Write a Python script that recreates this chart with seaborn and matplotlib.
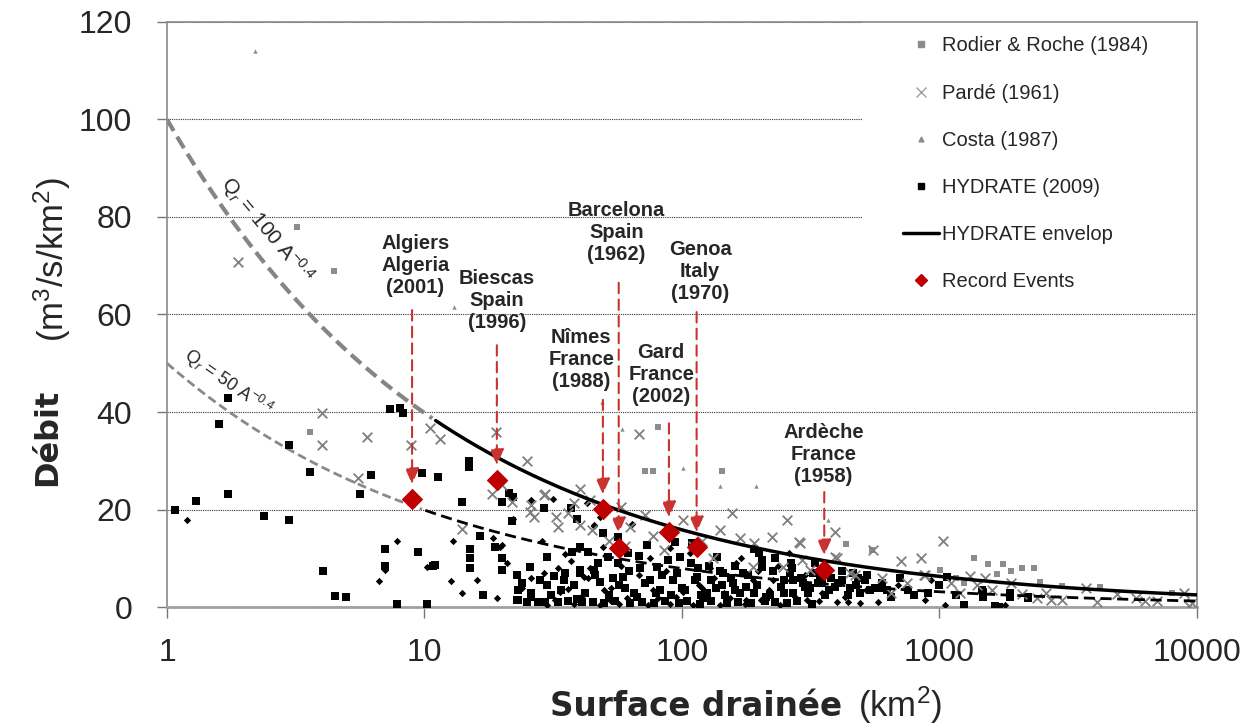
import matplotlib
matplotlib.use("Agg")
import matplotlib.pyplot as plt
from matplotlib.lines import Line2D
from matplotlib.patches import Rectangle
from matplotlib.ticker import NullLocator
import numpy as np
import pandas as pd
import seaborn as sns

# ---- data ----
rodier_area = [3.2, 4.45, 3.6, 80.9, 72, 77, 143, 433, 546, 1357, 1540, 1770, 1680,
               1900, 2100, 2320, 1005, 2450, 3000, 4200, 8000, 1160, 1250]
rodier_q = [78, 69, 36, 37, 28, 28, 28, 13, 11.7, 10, 8.8, 8.8, 6.8,
            7.4, 8, 8, 7.6, 5.1, 4.3, 4.1, 2.9, 6, 5]

costa_area = [2.2, 13, 58.5, 101, 140, 194, 368, 49]
costa_q = [114, 61.5, 36.5, 28.5, 24.8, 24.8, 17.8, 42]

parde_area = [1.89, 4.0, 4.0, 6.0, 5.5, 8.9, 10.5, 11.5, 19, 14, 18.3, 20, 21.8, 25, 29,
              25.6, 26.6, 33, 36, 40, 40, 44.8, 32.5, 29.4, 62.8, 68, 71.8, 101, 140, 156,
              168, 191, 224, 255, 284, 394, 553, 132, 189, 247, 292, 314, 400, 450, 394,
              288, 710, 850, 1030, 870, 470, 750, 880, 1110, 1320, 1500, 1600, 1900, 2100,
              2400, 2700, 3700, 4100, 4900, 5800, 6300, 7000, 8900, 9600, 9300, 2600, 3000,
              110, 120, 77, 60, 52, 85, 58, 44, 38, 26, 600, 650, 1200, 1400]
parde_q = [70.8, 39.8, 33.2, 34.9, 26.5, 33.2, 36.7, 34.4, 35.9, 16, 23.3, 25, 21.6, 30, 23,
           19.5, 18.5, 16.4, 19.3, 24.2, 16.8, 15.8, 18.5, 23.2, 16.4, 35.5, 18.9, 17.8, 15.8, 19.3,
           14.2, 13.1, 14.4, 17.8, 13.3, 15.4, 11.7, 10, 8.2, 8.2, 9.6, 7.6, 10, 7, 10.3,
           13.1, 9.4, 10, 13.5, 6.6, 6.6, 4.9, 6.6, 4.9, 6.4, 5.9, 3.5, 4.9, 2.6,
           1.8, 1.5, 3.9, 1.0, 2.6, 1.8, 1.2, 1.2, 2.9, 0.8, 0.3, 2.9, 1.4,
           12.5, 13.5, 14.5, 12.5, 13.5, 11.7, 20.5, 22, 21.3, 21, 6, 3, 2.8, 4.5]

hydrate_sq_area = [1.07, 1.3, 1.59, 1.72, 1.72, 2.98, 2.38, 2.98, 3.6, 5.6, 6.2, 7.35, 8.0, 8.25,
                   9.8, 11.3, 14.9, 14.9, 14, 20, 21.3, 22, 21.8, 16.4, 18.8, 20, 20, 22.8, 7.0,
                   7.0, 9.4, 10.8, 4.05, 4.5, 4.95, 7.8, 10.2, 16.9, 22.8, 29, 25.6, 29.8, 31.7,
                   34.8, 37, 39, 40, 37.4, 40, 43, 11, 15, 15, 15, 23, 25, 27.5, 29.5, 33, 36, 39,
                   41, 40,
                   49.3, 51.5, 45.7, 48, 56.5, 56.5, 61.6, 59, 73, 69, 75, 80, 88, 94, 98.5, 92,
                   108, 109, 114, 121, 137, 143, 144, 172, 178, 205, 205, 243, 262, 270, 295,
                   45, 50, 55, 63, 70, 78, 86, 97, 105, 118, 130, 150, 165, 185, 210, 230, 255,
                   280, 320,
                   300, 338, 324, 394, 418, 448, 482, 523, 490, 538, 587, 625, 755, 800, 1070,
                   1160, 1250, 1480, 1460, 1700, 1470, 1880, 2200, 1880, 2200, 1650,
                   60, 65, 82, 100, 125, 160, 190, 220, 250, 310, 360, 380, 420, 460, 350, 130,
                   155, 115, 68, 47, 54, 34, 30, 26, 24, 200, 230, 265, 190, 160, 140, 330, 270,
                   600, 700, 650, 900, 1000,
                   23, 26, 28, 31, 35, 38, 42, 46, 52, 57, 62, 67, 72, 79, 84, 91, 96, 103, 112,
                   119, 127, 135, 147, 158, 168, 180, 196, 212, 226, 248, 268, 290, 315, 345,
                   372, 405, 440, 475, 515, 560]
hydrate_sq_q = [20, 21.8, 37.5, 42.9, 23.2, 33.2, 18.7, 17.8, 27.7, 23.2, 27, 40.6, 40.8, 39.8,
                27.5, 26.7, 30, 28.7, 21.5, 21.5, 23.4, 22.6, 17.6, 14.6, 12.3, 10, 7.6, 6.6, 11.9,
                8.4, 11.3, 8.4, 7.4, 2.3, 2.1, 0.6, 0.6, 2.5, 1.5, 20.3, 8.2, 10.3, 6.4,
                5.5, 20.3, 18, 12.3, 11.3, 7.6, 11.3, 8.6, 12, 10, 8, 1.4, 1, 1, 1, 1, 1.2, 1.6,
                1, 7,
                15.2, 10.3, 7.6, 5.1, 9, 14.4, 11, 6.2, 12.7, 8, 5.5, 8.2, 9.6, 13.3, 10.3, 5.5,
                9, 13.1, 6.2, 1.8, 10.3, 4.5, 7, 7, 4.1, 9.6, 8.2, 4.1, 7, 2.9, 4.9,
                1, 0.8, 1.2, 0.9, 1.1, 0.8, 1.3, 0.9, 1.2, 0.7, 1.2, 0.9, 1.1, 0.8, 1.2, 1, 0.8,
                1.3, 0.7,
                4.1, 4.9, 7, 4.1, 5.5, 3.9, 5.9, 6.6, 2.9, 3.5, 3.9, 3.5, 3.5, 2.5, 6.2,
                2.5, 0.4, 2, 3.5, 0, 3.1, 2.9, 2.1, 2.1, 1.8, 0.2,
                4, 3, 3.5, 4, 3, 3.5, 3, 2.5, 5.5, 3, 2.5, 6, 7.5, 7, 5, 5.5,
                6, 8, 10.5, 9, 6, 3.5, 4.5, 3, 5, 11, 10, 9, 12, 8.5, 7.5, 9, 5.5,
                5, 6, 2, 3, 4.5,
                3.5, 2, 5.5, 2.5, 7, 4.5, 3, 6.5, 2.5, 4.5, 7.5, 2, 5, 3, 6.5, 2.5, 7, 3.5, 5.5,
                2.5, 8.5, 4, 2.5, 5, 3, 6.5, 4.5, 2, 7.5, 3, 8, 6, 4, 6.5,
                3.5, 5, 2.5, 4.5, 5.5, 4]

hydrate_dm_area = [1.2, 7.8, 10.2, 6.65, 7.0, 12.7, 12.9, 18.4, 19.1, 19.6, 20, 26, 31.5, 28.6,
                   35, 33.5, 36, 41.7, 43, 45.7, 42.6, 45.7, 49.3, 50, 52.5, 64.5, 81, 90, 101,
                   128, 154, 188, 203, 225, 306, 440, 490, 578, 690, 880, 930, 1050, 1800, 30,
                   38, 48, 57, 74, 90, 110, 140, 175, 240, 26, 33, 58, 75, 120, 170, 260, 350,
                   400, 22, 48, 64, 16, 14,
                   21, 24, 29, 32, 37, 41, 44, 53, 61, 68, 77, 87, 95, 107, 116, 133, 145, 162,
                   178, 198, 218, 235, 275, 300, 340, 380, 430, 520]
hydrate_dm_q = [17.8, 13.5, 8.2, 5.3, 7.6, 5.3, 13.5, 14.2, 1.8, 12.3, 12.8, 22, 22.2, 13.5,
                10.9, 3.1, 3.7, 6.2, 5.9, 16.6, 21.3, 16.8, 12.3, 3.5, 1.4, 2.9, 1.8, 12.1, 3.1,
                8, 1.8, 5.5, 1.4, 5.5, 1.4, 1, 0.8, 1, 4.5, 1.4, 5.5, 0.4, 0.4, 0.5,
                0.7, 0.5, 0.6, 0.5, 0.6, 0.5, 0.5, 0.6, 0.5, 6, 8, 8.5, 10, 4, 10, 11, 3,
                1, 18, 18.5, 17, 5.5, 3,
                9, 4, 7, 1.5, 9.5, 2.2, 8, 4, 1.8, 6.5, 3.5, 7.5, 2, 11, 4.5, 6, 3, 9,
                1.5, 7.5, 3.5, 8.5, 2, 6.5, 1.2, 4, 2, 3.5]

event_names = ["Algiers\nAlgeria\n(2001)", "Biescas\nSpain\n(1996)", "Nîmes\nFrance\n(1988)",
               "Barcelona\nSpain\n(1962)", "Gard\nFrance\n(2002)", "Genoa\nItaly\n(1970)",
               "Ardèche\nFrance\n(1958)"]
event_area = [8.95, 19.1, 49.3, 56.8, 89, 114, 357]
event_q = [22.2, 26.1, 20.1, 12.1, 15.4, 12.3, 7.6]
arrow_top = [60.9, 53.7, 42.5, 66.5, 37.7, 60.5, 23.6]
arrow_tip = [25.2, 29.1, 23.1, 15.1, 18.4, 15.3, 10.6]
label_area = [9.2, 19.1, 40.6, 55.7, 83, 117.7, 354]
label_q = [70, 62.8, 50.7, 76.9, 47.8, 68.9, 31.2]

# Qr = c * A^-0.4 curves
curve_coef = [100, 50]
curve_exp = -0.4
envelope_start = 11

# ---- style ----
sns.set_theme(style="white")
plt.rcParams["font.family"] = ["Liberation Sans", "DejaVu Sans"]
plt.rcParams["mathtext.fontset"] = "custom"
plt.rcParams["mathtext.rm"] = "Liberation Sans"
plt.rcParams["mathtext.it"] = "Liberation Sans:italic"

fig, ax = plt.subplots(figsize=(12.52, 7.28), dpi=100)
fig.subplots_adjust(left=0.1334, right=0.956, top=0.97, bottom=0.166)
ax.set_xscale("log")

# reference curves
area = np.logspace(0, 4, 300)
upper = curve_coef[0] * area ** curve_exp
lower = curve_coef[1] * area ** curve_exp
m1 = area <= envelope_start
m2 = area >= envelope_start
m3 = area <= 10
m4 = area >= 10
sns.lineplot(x=area[m1], y=upper[m1], ax=ax, color="#858585", lw=3,
             linestyle=(0, (3.2, 1.6)), zorder=2)
sns.lineplot(x=area[m2], y=upper[m2], ax=ax, color="black", lw=2.5, zorder=4)
sns.lineplot(x=area[m3], y=lower[m3], ax=ax, color="#8a8a8a", lw=2,
             linestyle=(0, (3.2, 1.6)), zorder=2)
sns.lineplot(x=area[m4], y=lower[m4], ax=ax, color="black", lw=2,
             linestyle=(0, (4, 2)), zorder=4)

# scatter series
sns.scatterplot(x=hydrate_dm_area, y=hydrate_dm_q, ax=ax, marker="D", color="black",
                s=14, linewidth=0, zorder=3)
sns.scatterplot(x=hydrate_sq_area, y=hydrate_sq_q, ax=ax, marker="s", color="black",
                s=28, linewidth=0, zorder=3)
sns.scatterplot(x=rodier_area, y=rodier_q, ax=ax, marker="s", color="#8c8c8c",
                s=14, linewidth=0, zorder=3)
sns.scatterplot(x=costa_area, y=costa_q, ax=ax, marker="^", color="#8c8c8c",
                s=10, linewidth=0, zorder=3)
sns.scatterplot(x=parde_area, y=parde_q, ax=ax, marker="x", color="#7f7f7f",
                s=48, linewidth=1.3, zorder=3)

# record events with dashed arrows
for a, top, tip in zip(event_area, arrow_top, arrow_tip):
    ax.annotate("", xy=(a, tip), xytext=(a, top),
                arrowprops=dict(arrowstyle="-|>,head_length=0.8,head_width=0.35",
                                color="#c8322f", lw=1.5, linestyle=(0, (5, 3)),
                                shrinkA=0, shrinkB=0, mutation_scale=12),
                zorder=5)
sns.scatterplot(x=event_area, y=event_q, ax=ax, marker="D", color="#c00000",
                s=120, linewidth=0, zorder=6)
for name, a, q in zip(event_names, label_area, label_q):
    ax.text(a, q, name, ha="center", va="center", fontsize=14.5,
            fontweight="bold", linespacing=1.2, zorder=6)

# curve labels
ax.text(2.45, 77.3, r"Q$_r$ = 100 A$^{-0.4}$", rotation=-50, ha="center", va="center",
        fontsize=15, zorder=6)
ax.text(1.72, 46, r"Q$_r$ = 50 A$^{-0.4}$", rotation=-35, ha="center", va="center",
        fontsize=13, zorder=6)

# axes
ax.set_xlim(1, 10000)
ax.set_ylim(0, 120)
ax.set_xticks([1, 10, 100, 1000, 10000], labels=["1", "10", "100", "1000", "10000"])
ax.xaxis.set_minor_locator(NullLocator())
ax.set_yticks([0, 20, 40, 60, 80, 100, 120])
ax.tick_params(axis="x", bottom=True, direction="out", length=8, width=1,
               color="#777777", pad=14, labelsize=23)
ax.tick_params(axis="y", left=True, direction="out", length=7, width=1,
               color="#777777", pad=18, labelsize=23)
ax.grid(axis="y", color="#333333", linestyle=(0, (1, 1)), linewidth=0.8, zorder=0)
ax.set_axisbelow(True)
for side in ["top", "right", "left"]:
    ax.spines[side].set_color("#8a8a8a")
    ax.spines[side].set_linewidth(1.2)
ax.spines["bottom"].set_color("#a0a0a0")
ax.spines["bottom"].set_linewidth(2)
ax.set_xlabel("")
ax.set_ylabel("")

# legend panel
ax.add_patch(Rectangle((0.675, 0.525), 0.325, 0.475, transform=ax.transAxes,
                       facecolor="white", edgecolor="none", zorder=1))
handles = [
    Line2D([], [], marker="s", color="#8c8c8c", ls="none", ms=4),
    Line2D([], [], marker="x", color="#a0a0a0", ls="none", ms=7, mew=1),
    Line2D([], [], marker="^", color="#8c8c8c", ls="none", ms=3.5),
    Line2D([], [], marker="s", color="black", ls="none", ms=5),
    Line2D([], [], color="black", lw=2.5),
    Line2D([], [], marker="D", color="#c00000", ls="none", ms=6),
]
labels = ["Rodier & Roche (1984)", "Pardé (1961)", "Costa (1987)", "HYDRATE (2009)",
          "HYDRATE envelop", "Record Events"]
ax.legend(handles, labels, loc="upper left", bbox_to_anchor=(0.7146, 0.975),
          borderaxespad=0, borderpad=0, frameon=False, fontsize=14.5,
          labelspacing=1.4, handlelength=1.8, handletextpad=0.15)

# axis titles (bold word + normal units)
fig.text(550 / 1252, 1 - 707 / 728, "Surface drainée", ha="left", va="center",
         fontsize=23.5, fontweight="bold", family="DejaVu Sans")
fig.text(858 / 1252, 1 - 705 / 728, r"(km$^2$)", ha="left", va="center", fontsize=25)
fig.text(48 / 1252, 1 - 437 / 728, "Débit", rotation=90, ha="center", va="center",
         fontsize=23, fontweight="bold", family="DejaVu Sans")
fig.text(52 / 1252, 1 - 260 / 728, r"(m$^3$/s/km$^2$)", rotation=90, ha="center",
         va="center", fontsize=25)

fig.savefig("out.png", dpi=100)
